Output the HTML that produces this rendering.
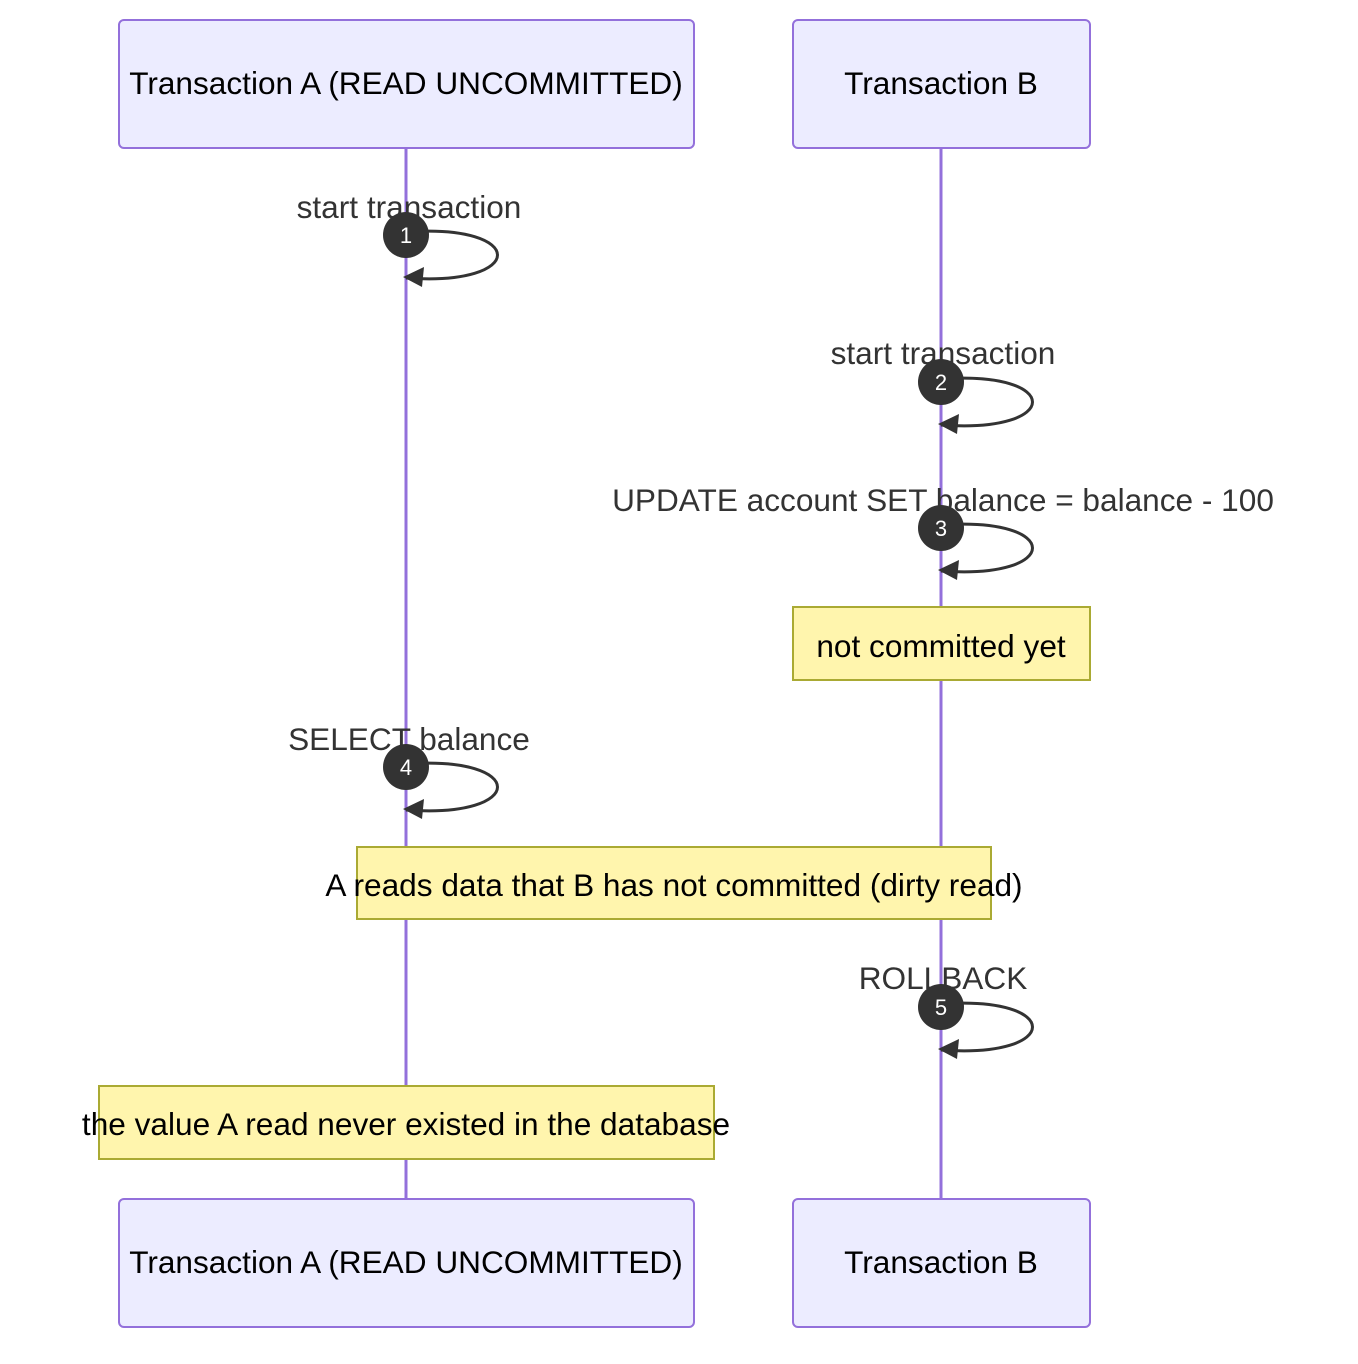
<!DOCTYPE html>
<html><head><meta charset="utf-8"><style>body{margin:0;background:#fff}svg{display:block}text{font-family:"Liberation Sans",Arial,sans-serif}</style></head><body>
<svg width="1358" height="1364" viewBox="0 0 1358 1364" xmlns="http://www.w3.org/2000/svg">
<defs>
<g id="loop">
<path d="M0,-3 C122,-12 122,52 0,43" fill="none" stroke="#333" stroke-width="3"/>
<polygon points="-3,42 18,32 16,52" fill="#333"/>
<circle cx="0" cy="0" r="23" fill="#333"/>
</g>
</defs>
<line x1="406" y1="148" x2="406" y2="1199" stroke="#9370db" stroke-width="3"/>
<line x1="941" y1="148" x2="941" y2="1199" stroke="#9370db" stroke-width="3"/>
<g fill="#ececff" stroke="#9370db" stroke-width="2">
<rect x="119" y="20" width="575" height="128" rx="5"/>
<rect x="793" y="20" width="297" height="128" rx="5"/>
<rect x="119" y="1199" width="575" height="128" rx="5"/>
<rect x="793" y="1199" width="297" height="128" rx="5"/>
</g>
<g font-size="31.6" text-anchor="middle" fill="#000">
<text x="406" y="94">Transaction A (READ UNCOMMITTED)</text>
<text x="941" y="94">Transaction B</text>
<text x="406" y="1273">Transaction A (READ UNCOMMITTED)</text>
<text x="941" y="1273">Transaction B</text>
</g>
<g font-size="31.6" text-anchor="middle" fill="#333">
<text x="409" y="218">start transaction</text>
<text x="943" y="364">start transaction</text>
<text x="943" y="511">UPDATE account SET balance = balance - 100</text>
<text x="409" y="750">SELECT balance</text>
<text x="943" y="989">ROLLBACK</text>
</g>
<use href="#loop" x="406" y="235"/>
<use href="#loop" x="941" y="382"/>
<use href="#loop" x="941" y="528"/>
<use href="#loop" x="406" y="767"/>
<use href="#loop" x="941" y="1007"/>
<g fill="#fff" font-size="22" text-anchor="middle">
<text x="406" y="243">1</text>
<text x="941" y="390">2</text>
<text x="941" y="536">3</text>
<text x="406" y="775">4</text>
<text x="941" y="1015">5</text>
</g>
<g fill="#fff5ad" stroke="#aaaa33" stroke-width="2">
<rect x="793" y="607" width="297" height="73"/>
<rect x="357" y="847" width="634" height="72"/>
<rect x="99" y="1086" width="615" height="73"/>
</g>
<g font-size="31.6" text-anchor="middle" fill="#000">
<text x="941" y="657">not committed yet</text>
<text x="674" y="896">A reads data that B has not committed (dirty read)</text>
<text x="406" y="1135">the value A read never existed in the database</text>
</g>
</svg>
</body></html>
